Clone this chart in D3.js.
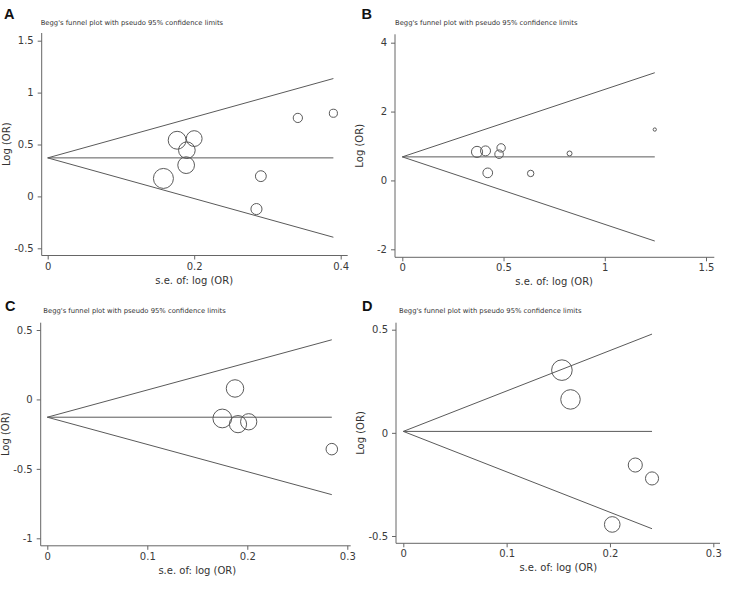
<!DOCTYPE html>
<html>
<head>
<meta charset="utf-8">
<script src="https://cdn.jsdelivr.net/npm/d3@7"></script>
<style>
  body { margin: 0; background: #fff; }
  svg { display: block; }
  .tick text { font-family: "DejaVu Sans", sans-serif; font-size: 10px; fill: #3a3a3a; }
  .tick line { stroke: #666; }
</style>
</head>
<body>
<div id="chart"></div>
<script>
// --- data ---
const titleText = "Begg's funnel plot with pseudo 95% confidence limits";

// panel A
const seA  = [0.1767, 0.200, 0.190, 0.189, 0.158, 0.291, 0.285, 0.3415, 0.390];
const logA = [0.541, 0.557, 0.445, 0.301, 0.173, 0.195, -0.122, 0.756, 0.801];
const pooledA = 0.371;
const xTicksA = [0, 0.2, 0.4];
const yTicksA = [-0.5, 0, 0.5, 1, 1.5];

// panel B
const seB  = [0.369, 0.411, 0.488, 0.478, 0.422, 0.634, 0.826, 1.247];
const logB = [0.829, 0.858, 0.945, 0.762, 0.220, 0.203, 0.783, 1.478];
const pooledB = 0.684;
const xTicksB = [0, 0.5, 1, 1.5];
const yTicksB = [-2, 0, 2, 4];

// panel C
const seC  = [0.1877, 0.175, 0.1907, 0.2014, 0.2845];
const logC = [0.079, -0.137, -0.178, -0.161, -0.358];
const pooledC = -0.128;
const xTicksC = [0, 0.1, 0.2, 0.3];
const yTicksC = [-1, -0.5, 0, 0.5];

// panel D
const seD  = [0.1535, 0.1618, 0.2245, 0.2407, 0.2022];
const logD = [0.304, 0.162, -0.156, -0.221, -0.444];
const pooledD = 0.007;
const xTicksD = [0, 0.1, 0.2, 0.3];
const yTicksD = [-0.5, 0, 0.5];

// --- layout ---
const W = 739, H = 607;
const svg = d3.select("#chart").append("svg")
    .attr("width", W).attr("height", H)
    .attr("viewBox", [0, 0, W, H]);

// frame: axis line positions + pixel ranges of the scales
const panels = [
  { letter: "A", se: seA, lg: logA, pooled: pooledA, xt: xTicksA, yt: yTicksA,
    axX: 41.7, axTop: 33, axY: 255.5, axRight: 347.7, letterX: 4, letterY: 19,
    xr: [47.7, 340.7], yr: [248.3, 40.7], k: 1.58, titleX: 40.7, titleY: 25 },
  { letter: "B", se: seB, lg: logB, pooled: pooledB, xt: xTicksB, yt: yTicksB,
    axX: 395, axTop: 34.3, axY: 257.3, axRight: 714.3, letterX: 361.5, letterY: 19,
    xr: [402.3, 706], yr: [249.3, 42.7], k: 2.05, titleX: 395, titleY: 25 },
  { letter: "C", se: seC, lg: logC, pooled: pooledC, xt: xTicksC, yt: yTicksC,
    axX: 40.7, axTop: 322.7, axY: 545.8, axRight: 350.7, letterX: 5, letterY: 311,
    xr: [47.3, 347.3], yr: [538.3, 330], k: 1.64, titleX: 43.3, titleY: 313 },
  { letter: "D", se: seD, lg: logD, pooled: pooledD, xt: xTicksD, yt: yTicksD,
    axX: 396, axTop: 322.7, axY: 543.3, axRight: 720, letterX: 362, letterY: 311,
    xr: [403.3, 713.3], yr: [536, 329.7], k: 1.58, titleX: 399, titleY: 313 }
];

const ink = "#5a5a5a";
const fmt = d => String(d); // Stata prints a plain hyphen for negatives

panels.forEach(p => {
  const g = svg.append("g");
  const x = d3.scaleLinear().domain(d3.extent(p.xt)).range(p.xr);
  const y = d3.scaleLinear().domain(d3.extent(p.yt)).range(p.yr);

  // panel letter + title
  g.append("text")
      .attr("x", p.letterX).attr("y", p.letterY)
      .style("font-family", "'Liberation Sans', Arial, sans-serif")
      .style("font-weight", "bold").style("font-size", "14.5px")
      .style("fill", "#111")
      .text(p.letter);
  g.append("text")
      .attr("x", p.titleX).attr("y", p.titleY)
      .style("font-family", "'DejaVu Sans', sans-serif")
      .style("font-size", "6.8px").style("fill", "#333")
      .text(titleText);

  // axis lines (Stata style, a bit longer than the tick range)
  g.append("line")
      .attr("x1", p.axX).attr("x2", p.axX)
      .attr("y1", p.axTop).attr("y2", p.axY)
      .attr("stroke", "#666");
  g.append("line")
      .attr("x1", p.axX).attr("x2", p.axRight)
      .attr("y1", p.axY).attr("y2", p.axY)
      .attr("stroke", "#666");

  const yAxis = g.append("g")
      .attr("transform", `translate(${p.axX},0)`)
      .call(d3.axisLeft(y).tickValues(p.yt).tickSize(4).tickPadding(4)
            .tickFormat(fmt));
  yAxis.select(".domain").remove();

  const xAxis = g.append("g")
      .attr("transform", `translate(0,${p.axY})`)
      .call(d3.axisBottom(x).tickValues(p.xt).tickSize(4).tickPadding(3)
            .tickFormat(fmt));
  xAxis.select(".domain").remove();

  // axis titles
  g.append("text")
      .attr("x", (p.xr[0] + p.xr[1]) / 2)
      .attr("y", p.axY + 28)
      .attr("text-anchor", "middle")
      .style("font-family", "'DejaVu Sans', sans-serif")
      .style("font-size", "10px").style("fill", "#333")
      .text("s.e. of: log (OR)");
  g.append("text")
      .attr("transform", `translate(${p.axX - 32},${(p.axTop + p.axY) / 2}) rotate(-90)`)
      .attr("text-anchor", "middle")
      .style("font-family", "'DejaVu Sans', sans-serif")
      .style("font-size", "10px").style("fill", "#333")
      .text("Log (OR)");

  // funnel: pooled line and pseudo 95% limits
  const seMax = d3.max(p.se);
  const lim = [
    [[0, p.pooled], [seMax, p.pooled]],
    [[0, p.pooled], [seMax, p.pooled + 1.96 * seMax]],
    [[0, p.pooled], [seMax, p.pooled - 1.96 * seMax]]
  ];
  const line = d3.line().x(d => x(d[0])).y(d => y(d[1]));
  g.selectAll("path.lim").data(lim).enter().append("path")
      .attr("class", "lim")
      .attr("d", line)
      .attr("fill", "none")
      .attr("stroke", ink)
      .attr("stroke-width", 1);

  // studies, symbol size by weight 1/se^2
  const r = d3.scaleSqrt().domain([0, 1]).range([0, p.k]);
  g.selectAll("circle").data(p.se.map((s, i) => ({ se: s, lg: p.lg[i] })))
    .enter().append("circle")
      .attr("cx", d => x(d.se))
      .attr("cy", d => y(d.lg))
      .attr("r", d => r(1 / (d.se * d.se)))
      .attr("fill", "none")
      .attr("stroke", ink)
      .attr("stroke-width", 1);
});
</script>
</body>
</html>
